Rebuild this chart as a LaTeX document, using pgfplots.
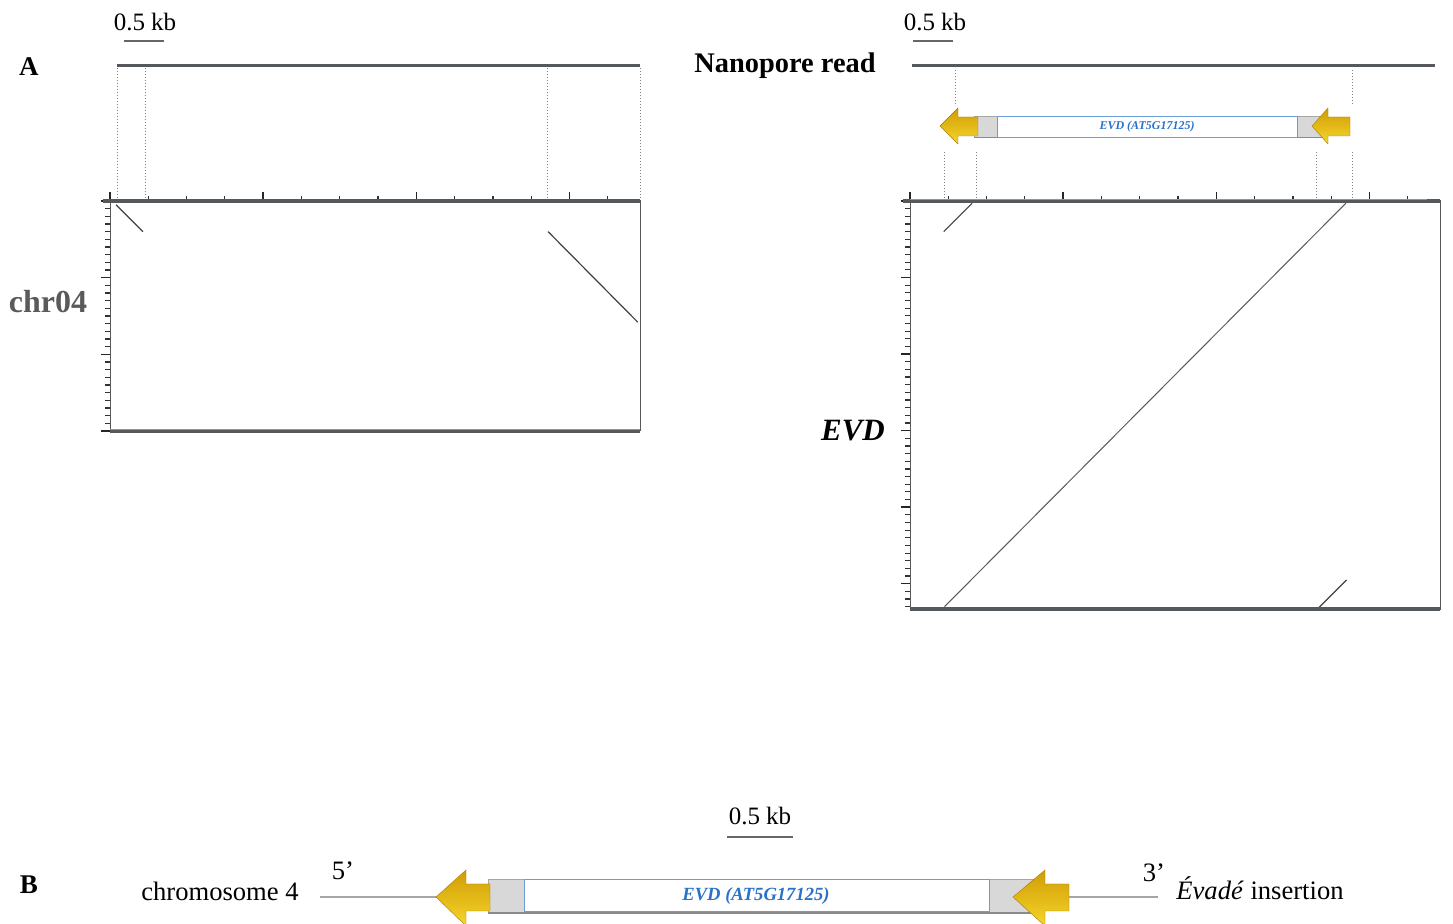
\documentclass[border=0pt]{standalone}
\usepackage{pgfplots}
\pgfplotsset{compat=1.18}
\usepackage{fontspec}
\setmainfont{Liberation Serif}
\definecolor{axgray}{HTML}{55595D}
\definecolor{gold1}{HTML}{D09C05}
\definecolor{gold2}{HTML}{F5D62B}
\definecolor{evdblue}{HTML}{2A72C8}
\definecolor{ltrgray}{HTML}{D8D8D8}
\definecolor{dotgreen}{HTML}{6FAE6C}
\definecolor{labgray}{HTML}{5A5A5A}
\pgfplotsset{
  dotplot/.style={
    scale only axis, clip=false,
    xmin=0, xmax=6.92, ymin=0, y dir=reverse,
    axis line style={axgray, line width=0.5pt},
    tick align=outside, xtick pos=upper, ytick pos=left,
    xtick={0,2,4,6}, minor xtick={0.5,1,1.5,2.5,3,3.5,4.5,5,5.5,6.5},
    xticklabels={}, yticklabels={},
    major tick length=4.5pt, minor tick length=2.5pt,
    major tick style={black!85, line width=0.75pt},
    minor tick style={black!80, line width=0.6pt},
  },
}
\begin{document}
\begin{tikzpicture}[x=0.5pt, y=0.5pt]
\clip (0,0) rectangle (1453,924);
%---------------- overlay (pixel coordinates, y downward) ----------------
\begin{axis}[at={(0pt,0pt)}, anchor=south west, scale only axis,
  width=726.5pt, height=462pt, xmin=0, xmax=1453, ymin=0, ymax=924,
  y dir=reverse, hide axis, clip=false]
% read tracks
\addplot[axgray, line width=1.5pt] coordinates {(117,66) (640,66)};
\addplot[axgray, line width=1.5pt] coordinates {(912,66) (1435,66)};
% dotted guide lines, left
\addplot[gray, densely dotted, line width=0.5pt] coordinates {(117,68) (117,200)};
\addplot[gray, densely dotted, line width=0.5pt] coordinates {(145.5,68) (145.5,200)};
\addplot[gray, densely dotted, line width=0.5pt] coordinates {(547,68) (547,200)};
\addplot[gray, densely dotted, line width=0.5pt] coordinates {(640,68) (640,200)};
% dotted guide lines, right
\addplot[gray, densely dotted, line width=0.5pt] coordinates {(955,70) (955,105)};
\addplot[gray, densely dotted, line width=0.5pt] coordinates {(1352,70) (1352,105)};
\addplot[gray, densely dotted, line width=0.5pt] coordinates {(944,152) (944,198)};
\addplot[gray, densely dotted, line width=0.5pt] coordinates {(976,152) (976,198)};
\addplot[gray, densely dotted, line width=0.5pt] coordinates {(1316,152) (1316,198)};
\addplot[gray, densely dotted, line width=0.5pt] coordinates {(1352,152) (1352,198)};
% scale bars
\addplot[gray!80!black, line width=1pt] coordinates {(124,41) (164,41)};
\addplot[gray!80!black, line width=1pt] coordinates {(913,41) (953,41)};
\addplot[gray!80!black, line width=1pt] coordinates {(727,837) (793,837)};
\node[font=\fontsize{12.5}{14}\selectfont] at (axis cs:145,22) {0.5 kb};
\node[font=\fontsize{12.5}{14}\selectfont] at (axis cs:935,22) {0.5 kb};
\node[font=\fontsize{12.5}{14}\selectfont] at (axis cs:760,816) {0.5 kb};
% labels
\node[font=\bfseries\fontsize{13.5}{15}\selectfont] at (axis cs:29,67) {A};
\node[font=\bfseries\fontsize{13.5}{15}\selectfont] at (axis cs:29,885) {B};
\node[font=\bfseries\fontsize{14.2}{16}\selectfont] at (axis cs:785,66) {Nanopore read};
\node[font=\bfseries\fontsize{16}{18}\selectfont, text=labgray] at (axis cs:48,302) {chr04};
\node[font=\bfseries\itshape\fontsize{15.5}{18}\selectfont] at (axis cs:853,431) {EVD};
\node[font=\fontsize{13.3}{15}\selectfont] at (axis cs:220,891) {chromosome 4};
\node[font=\fontsize{13.3}{15}\selectfont] at (axis cs:343,871) {5’};
\node[font=\fontsize{13.3}{15}\selectfont] at (axis cs:1154,873) {3’};
\node[font=\fontsize{13.3}{15}\selectfont] at (axis cs:1260,888) {\textit{Évadé} insertion};
% ---- top-right EVD element ----
\draw[fill=ltrgray, draw=gray!70] (axis cs:974,116) rectangle (axis cs:1324,137);
\draw[axgray!70, line width=0.8pt] (axis cs:974,137.5) -- (axis cs:1324,137.5);
\draw[fill=white, draw=evdblue!70, line width=0.4pt] (axis cs:997,116) rectangle (axis cs:1297,137);
\node[font=\bfseries\itshape\fontsize{6}{7}\selectfont, text=evdblue] at (axis cs:1147,127) {EVD (AT5G17125)};
\shade[top color=gold1, bottom color=gold2, draw=gold1!80!black, line width=0.2pt]
  (axis cs:940,126) -- (axis cs:958,108) -- (axis cs:958,117) -- (axis cs:978,117)
  -- (axis cs:978,136) -- (axis cs:958,136) -- (axis cs:958,144) -- cycle;
\shade[top color=gold1, bottom color=gold2, draw=gold1!80!black, line width=0.2pt]
  (axis cs:1312,126) -- (axis cs:1328,108) -- (axis cs:1328,117) -- (axis cs:1350,117)
  -- (axis cs:1350,136) -- (axis cs:1328,136) -- (axis cs:1328,144) -- cycle;
% ---- bottom EVD element ----
\addplot[gray!70, line width=0.6pt] coordinates {(320,897) (1158,897)};
\draw[fill=ltrgray, draw=gray!70] (axis cs:488,879) rectangle (axis cs:1042,913);
\draw[axgray!70, line width=1pt] (axis cs:488,913.5) -- (axis cs:1042,913.5);
\draw[fill=white, draw=evdblue!70, line width=0.5pt] (axis cs:524,880) rectangle (axis cs:989,912);
\node[font=\bfseries\itshape\fontsize{9.3}{11}\selectfont, text=evdblue] at (axis cs:756,896) {EVD (AT5G17125)};
\shade[top color=gold1, bottom color=gold2, draw=gold1!80!black, line width=0.2pt]
  (axis cs:436,897) -- (axis cs:466,870) -- (axis cs:466,884) -- (axis cs:490,884)
  -- (axis cs:490,911) -- (axis cs:466,911) -- (axis cs:466,926) -- cycle;
\shade[top color=gold1, bottom color=gold2, draw=gold1!80!black, line width=0.2pt]
  (axis cs:1013,897) -- (axis cs:1045,870) -- (axis cs:1045,884) -- (axis cs:1069,884)
  -- (axis cs:1069,911) -- (axis cs:1045,911) -- (axis cs:1045,926) -- cycle;
\end{axis}
%---------------- dot plot: read vs chr04 ----------------
\begin{axis}[dotplot, at={(55pt,361.5pt)}, anchor=north west,
  width=265pt, height=115pt, ymax=3.0,
  ytick={0,1,2,3}, minor ytick={0.1,0.2,0.3,0.4,0.5,0.6,0.7,0.8,0.9,1.1,1.2,1.3,1.4,1.5,1.6,1.7,1.8,1.9,2.1,2.2,2.3,2.4,2.5,2.6,2.7,2.8,2.9}]
\addplot[black!75, line width=0.6pt] coordinates {(0.08,0.05) (0.43,0.40)};
\addplot[black!75, line width=0.6pt] coordinates {(5.72,0.40) (6.89,1.58)};
\draw[axgray, line width=1.6pt] (axis cs:-0.09,0) -- (axis cs:6.92,0);
\draw[axgray, line width=1.6pt] (axis cs:0,3.0) -- (axis cs:6.92,3.0);
\draw[dotgreen, line width=0.6pt] (axis cs:0,2.985) -- (axis cs:6.92,2.985);
\end{axis}
%---------------- dot plot: read vs EVD ----------------
\begin{axis}[dotplot, at={(455pt,361.5pt)}, anchor=north west,
  width=265pt, height=204pt, ymax=5.33,
  ytick={0,1,2,3,4,5},
  minor ytick={0.1,0.2,0.3,0.4,0.5,0.6,0.7,0.8,0.9,1.1,1.2,1.3,1.4,1.5,1.6,1.7,1.8,1.9,2.1,2.2,2.3,2.4,2.5,2.6,2.7,2.8,2.9,3.1,3.2,3.3,3.4,3.5,3.6,3.7,3.8,3.9,4.1,4.2,4.3,4.4,4.5,4.6,4.7,4.8,4.9,5.1,5.2,5.3}]
\addplot[black!65, line width=0.5pt] coordinates {(5.69,0.03) (0.45,5.30)};
\addplot[black!75, line width=0.55pt] coordinates {(0.81,0.03) (0.44,0.40)};
\addplot[black!75, line width=0.55pt] coordinates {(5.70,4.95) (5.33,5.32)};
\draw[axgray, line width=1.6pt] (axis cs:-0.09,0) -- (axis cs:6.92,0);
\draw[dotgreen, line width=0.6pt] (axis cs:0,-0.02) -- (axis cs:6.75,-0.02);
\draw[axgray, line width=1.6pt] (axis cs:0,5.33) -- (axis cs:6.92,5.33);
\end{axis}
\end{tikzpicture}
\end{document}
